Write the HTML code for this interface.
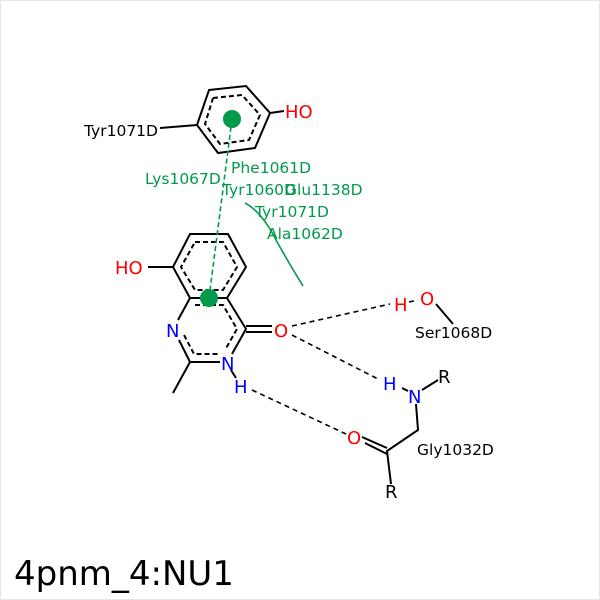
<!DOCTYPE html>
<html><head><style>body{margin:0;background:#fff}svg{display:block}text{font-family:"DejaVu Sans","Liberation Sans",sans-serif}</style></head><body>
<svg width="600" height="600" viewBox="0 0 600 600" xmlns="http://www.w3.org/2000/svg">
<rect x="0.5" y="0.5" width="599" height="599" fill="#fff" stroke="#e6e6e6"/>
<g stroke="#000" stroke-width="2" fill="none">
<polygon points="209,90 246,86 270,113 255,148 218,153 197,125"/>
<polyline stroke-dasharray="5,3" points="213,98 242,95 260,115 249,140 220,144 205,124 213,98"/>
<line x1="160" y1="128" x2="197" y2="125"/>
<line x1="270" y1="113" x2="284" y2="111"/>
<polygon points="190,234 228,234 246,267 227,298 190,298 173,267"/>
<polyline stroke-dasharray="5,3" points="195,242 223,242 237,267 223,290 195,290 181,267 195,242"/>
<line x1="148" y1="267" x2="173" y2="267"/>
<polyline points="190,298 178,320"/>
<polyline points="227,298 246,329 232,354"/>
<polyline points="179,340 190,362 220,362"/>
<polyline stroke-dasharray="5,3" points="195,305 223,305 237,329 225,350"/>
<polyline stroke-dasharray="5,3" points="184,335 194,354 218,354"/>
<line x1="190" y1="362" x2="173" y2="393"/>
<line x1="246" y1="326" x2="272" y2="326"/>
<line x1="246" y1="332" x2="272" y2="332"/>
<line x1="231" y1="370" x2="236" y2="378"/>
<line x1="436" y1="304" x2="453" y2="324"/>
<line x1="422" y1="390" x2="438" y2="380"/>
<line x1="402" y1="388" x2="408" y2="391"/>
<polyline points="416,404 418,430 387,451 391,484"/>
<line x1="362" y1="437" x2="387" y2="448"/>
<line x1="365" y1="443" x2="387" y2="454"/>
</g>
<g stroke="#000" stroke-width="1.6" stroke-dasharray="5,4" fill="none">
<line x1="292" y1="326" x2="390" y2="304"/>
<line x1="292" y1="335" x2="380" y2="380"/>
<line x1="252" y1="390" x2="346" y2="434"/>
<line x1="409" y1="302" x2="418" y2="300"/>
</g>
<line x1="232" y1="119" x2="209" y2="298" stroke="#009a4a" stroke-width="1.6" stroke-dasharray="5,3"/>
<circle cx="232" cy="119" r="9" fill="#009a4a"/>
<circle cx="209" cy="298" r="9" fill="#009a4a"/>
<path d="M245,203 Q262,212 276,240 Q290,265 303,286" stroke="#009a4a" stroke-width="1.6" fill="none"/>
<g font-size="15.5" fill="#009a4a">
<text x="231" y="173">Phe1061D</text>
<text x="145" y="184">Lys1067D</text>
<text x="222" y="195">Tyr1060D</text>
<text x="285" y="195">Glu1138D</text>
<text x="255" y="217">Tyr1071D</text>
<text x="267" y="239">Ala1062D</text>
</g>
<g font-size="15.5" fill="#000">
<text x="84" y="136">Tyr1071D</text>
<text x="415" y="338">Ser1068D</text>
<text x="417" y="455">Gly1032D</text>
</g>
<g font-size="18">
<text x="285" y="118" fill="#f00">HO</text>
<text x="115" y="274" fill="#f00">HO</text>
<text x="166" y="337" fill="#00f">N</text>
<text x="221" y="370" fill="#00f">N</text>
<text x="234" y="393" fill="#00f">H</text>
<text x="274" y="337" fill="#f00">O</text>
<text x="394" y="311" fill="#f00">H</text>
<text x="420" y="305" fill="#f00">O</text>
<text x="383" y="390" fill="#00f">H</text>
<text x="408" y="403" fill="#00f">N</text>
<text x="347" y="444" fill="#f00">O</text>
<text x="438" y="383" fill="#000">R</text>
<text x="385" y="498" fill="#000">R</text>
</g>
<text x="14" y="585" font-size="34" fill="#000">4pnm_4:NU1</text>
</svg>
</body></html>
